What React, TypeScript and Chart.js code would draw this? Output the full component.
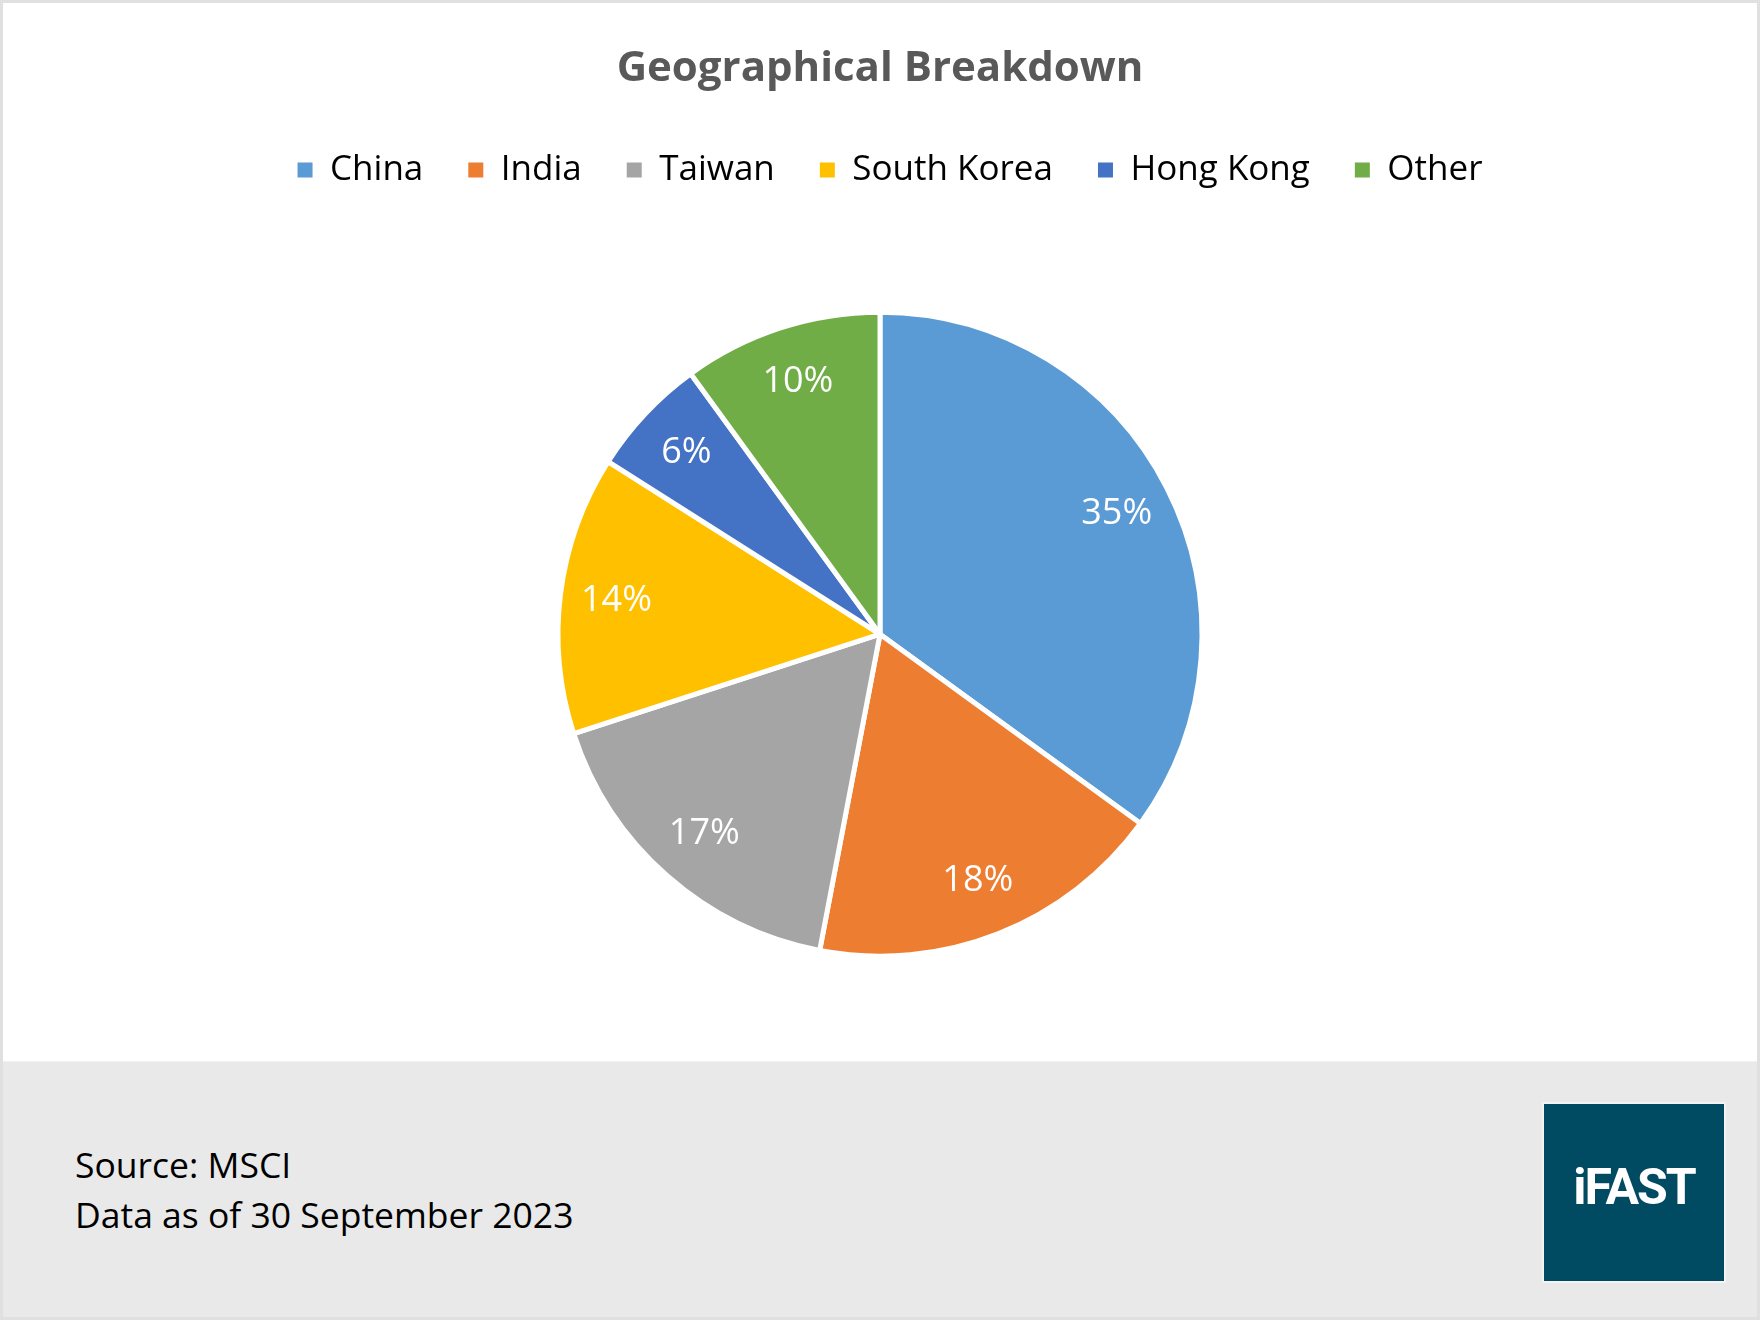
import React, { useEffect, useRef } from "react";
import { Chart, registerables } from "chart.js";

Chart.register(...registerables);

const categories = ["China", "India", "Taiwan", "South Korea", "Hong Kong", "Other"];
const shares = [35, 18, 17, 14, 6, 10];
const sliceColors = ["#5B9BD5", "#ED7D31", "#A5A5A5", "#FFC000", "#4472C4", "#70AD47"];
const titleText = "Geographical Breakdown";
const sourceLines = ["Source: MSCI", "Data as of 30 September 2023"];
const logoText = "iFAST";

const LABEL_RADIUS = 0.825;
const LEGEND_SHIFT = 10;

const pieLabels = {
  id: "pieLabels",
  afterLayout(chart: any) {
    if (chart.legend) {
      chart.legend.left += LEGEND_SHIFT;
      chart.legend.right += LEGEND_SHIFT;
    }
  },
  afterDatasetsDraw(chart: any) {
    const ctx = chart.ctx;
    const meta = chart.getDatasetMeta(0);
    meta.data.forEach((arc: any, i: number) => {
      const { x, y, startAngle, endAngle, outerRadius } = arc.getProps(
        ["x", "y", "startAngle", "endAngle", "outerRadius"],
        true
      );
      const mid = (startAngle + endAngle) / 2;
      const r = outerRadius * LABEL_RADIUS;
      ctx.save();
      ctx.fillStyle = "#ffffff";
      ctx.font = '36px "Open Sans"';
      ctx.textAlign = "center";
      ctx.textBaseline = "middle";
      ctx.fillText(shares[i] + "%", x + Math.cos(mid) * r, y + Math.sin(mid) * r);
      ctx.restore();
    });
  },
};

export default function App() {
  const canvasRef = useRef<HTMLCanvasElement | null>(null);

  useEffect(() => {
    document.body.style.margin = "0";
    const canvas = canvasRef.current;
    if (!canvas) return;
    const chart = new Chart(canvas, {
      type: "pie",
      data: {
        labels: categories,
        datasets: [
          {
            data: shares,
            backgroundColor: sliceColors,
            borderColor: "#ffffff",
            borderWidth: 5,
            radius: 322,
          } as any,
        ],
      },
      options: {
        responsive: false,
        animation: false,
        devicePixelRatio: 1,
        events: [],
        layout: { padding: { top: 0, bottom: 249, left: 0, right: 0 } },
        plugins: {
          tooltip: { enabled: false },
          title: {
            display: true,
            text: titleText,
            color: "#595959",
            font: { family: '"Open Sans"', size: 42, weight: "bold" },
            padding: { top: 44, bottom: 13 },
          },
          legend: {
            display: true,
            position: "top",
            labels: {
              color: "#595959",
              font: { family: '"Open Sans"', size: 35 },
              boxWidth: 15,
              boxHeight: 15,
              padding: 45,
              generateLabels: () =>
                categories.map((name, i) => ({
                  text: name,
                  fillStyle: sliceColors[i],
                  strokeStyle: sliceColors[i],
                  lineWidth: 0,
                  hidden: false,
                  index: i,
                })),
            },
          },
        },
      },
      plugins: [pieLabels],
    });
    return () => chart.destroy();
  }, []);

  return (
    <div
      style={{
        position: "relative",
        width: 1760,
        height: 1320,
        background: "#ffffff",
        overflow: "hidden",
      }}
    >
      <canvas
        ref={canvasRef}
        width={1760}
        height={1320}
        style={{ position: "absolute", left: 0, top: 0, width: 1760, height: 1320 }}
      />
      <div
        style={{
          position: "absolute",
          left: 0,
          top: 1061,
          width: 1760,
          height: 259,
          background: "#e9e9e9",
          borderTop: "1px solid #f2f2f2",
        }}
      />
      <div
        style={{
          position: "absolute",
          left: 75,
          top: 1139,
          fontFamily: '"Open Sans"',
          fontSize: 35.5,
          lineHeight: "50px",
          color: "#000000",
          whiteSpace: "nowrap",
        }}
      >
        {sourceLines.map((t) => (
          <div key={t}>{t}</div>
        ))}
      </div>
      <div
        style={{
          position: "absolute",
          left: 1542,
          top: 1102,
          width: 180,
          height: 177,
          background: "#004a62",
          border: "2px solid #f3f3f3",
          display: "flex",
          alignItems: "center",
          justifyContent: "center",
        }}
      >
        <span
          style={{
            fontFamily: "Roboto",
            fontWeight: 700,
            fontSize: 50,
            letterSpacing: "-2px",
            color: "#ffffff",
            marginTop: -12,
          }}
        >
          {logoText}
        </span>
      </div>
      <div
        style={{
          position: "absolute",
          left: 0,
          top: 0,
          width: 1760,
          height: 1320,
          boxSizing: "border-box",
          border: "3px solid #e0e0e0",
          pointerEvents: "none",
        }}
      />
    </div>
  );
}
